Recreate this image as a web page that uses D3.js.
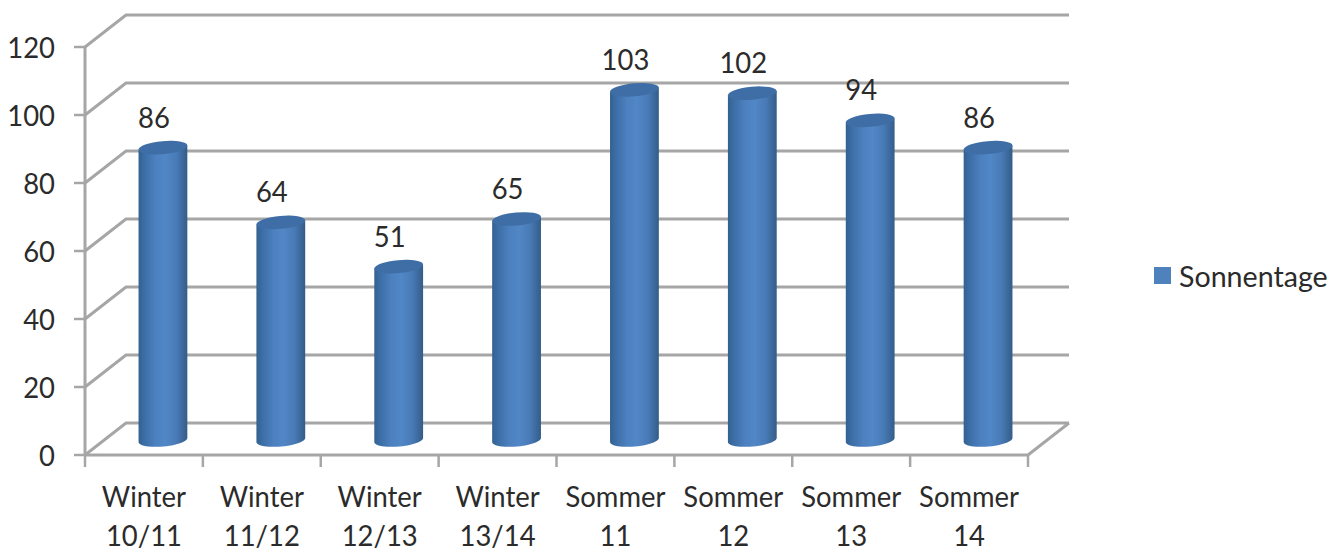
<!DOCTYPE html>
<html><head><meta charset="utf-8">
<script src="https://cdn.jsdelivr.net/npm/d3@7"></script>
<style>
html,body{margin:0;padding:0;background:#fff}
svg{display:block}
text{font-family:Lato,"Open Sans",sans-serif;fill:#2b2b2b}
</style></head><body>
<div id="chart"></div>
<script>
const categories=[["Winter","10/11"],["Winter","11/12"],["Winter","12/13"],["Winter","13/14"],["Sommer","11"],["Sommer","12"],["Sommer","13"],["Sommer","14"]];
const seriesName="Sonnentage";
const values=[86,64,51,65,103,102,94,86];
const yTicks=[0,20,40,60,80,100,120];

const W=1343,H=555;
const frontLeft=85,frontRight=1028,floorY=455,topY=47;
const depthX=41,depthY=-32;
const fontSize=29.5,squeeze=0.93,gridColor="#a6a6a6";

const svg=d3.select("#chart").append("svg").attr("width",W).attr("height",H);
const y=d3.scaleLinear().domain([0,120]).range([floorY,topY]);
const x=d3.scaleBand().domain(d3.range(values.length)).range([frontLeft,frontRight]);
const place=(px,py,sx=squeeze)=>`translate(${px},${py}) scale(${sx},1)`;

const defs=svg.append("defs");
const grad=defs.append("linearGradient").attr("id","cyl");
[[0,"#33608f"],[0.12,"#3c6ea6"],[0.35,"#4c80bf"],[0.55,"#5187c6"],[0.78,"#487ab6"],[0.93,"#3a6697"],[1,"#345c88"]]
  .forEach(([o,c])=>grad.append("stop").attr("offset",o).attr("stop-color",c));

// Side wall, back wall and floor edges
const grid=svg.append("g").attr("fill","none").attr("stroke",gridColor).attr("stroke-width",3);
grid.selectAll("path.g").data(yTicks).join("path").attr("class","g")
  .attr("d",t=>d3.line()([[frontLeft,y(t)],[frontLeft+depthX,y(t)+depthY],[frontRight+depthX,y(t)+depthY]]));
grid.append("path").attr("d",d3.line()([[frontLeft,floorY],[frontRight,floorY],[frontRight+depthX,floorY+depthY]]));
grid.append("path").attr("d",d3.line()([[frontLeft,topY],[frontLeft,floorY]]));

// Axis ticks and labels
const ticksY=svg.append("g").attr("stroke",gridColor).attr("stroke-width",2.5);
ticksY.selectAll("line").data(yTicks).join("line")
  .attr("x1",frontLeft-11).attr("x2",frontLeft).attr("y1",y).attr("y2",y);
const ticksX=svg.append("g").attr("stroke",gridColor).attr("stroke-width",2.5);
ticksX.selectAll("line").data(d3.range(values.length+1)).join("line")
  .attr("x1",i=>frontLeft+i*x.step()).attr("x2",i=>frontLeft+i*x.step())
  .attr("y1",floorY).attr("y2",floorY+12);

svg.append("g").selectAll("text").data(yTicks).join("text")
  .attr("transform",t=>place(frontLeft-30,y(t))).attr("dy","0.36em").attr("text-anchor","end")
  .attr("font-size",fontSize).text(d=>d);

const catRows=[507,546];
catRows.forEach((rowY,row)=>{
  svg.append("g").selectAll("text").data(categories).join("text")
    .attr("text-anchor","middle").attr("font-size",fontSize)
    .attr("transform",(d,i)=>place(x(i)+x.bandwidth()/2,rowY)).text(d=>d[row]);
});

// Cylinders standing on the floor, set back from the front edge
const rx=24.5,ry=6.5,tiltRad=-0.09,baseShift=-15,offX=19;
const ellipsePoint=(cy,a)=>[
  rx*Math.cos(a)*Math.cos(tiltRad)-ry*Math.sin(a)*Math.sin(tiltRad),
  cy+rx*Math.cos(a)*Math.sin(tiltRad)+ry*Math.sin(a)*Math.cos(tiltRad)
];
const lowerArc=d3.range(0,Math.PI+0.01,Math.PI/24);
const bodyLine=d3.line().curve(d3.curveLinear);
const bars=svg.append("g").selectAll("g").data(values).join("g")
  .attr("transform",(d,i)=>`translate(${x(i)+x.bandwidth()/2+offX},0)`);
bars.append("path").attr("fill","url(#cyl)")
  .attr("d",d=>{
    const yb=y(0)+baseShift,yt=y(d)+baseShift;
    const bottom=lowerArc.map(a=>ellipsePoint(yb,a));
    const top=[ellipsePoint(yt,Math.PI),ellipsePoint(yt,0)];
    return bodyLine([...top.slice(1),...bottom,top[0]])+"Z";
  });
bars.append("ellipse").attr("rx",rx).attr("ry",ry).attr("fill","#3f6ea6")
  .attr("transform",d=>`translate(0,${y(d)+baseShift}) rotate(${tiltRad*180/Math.PI})`);

// Value labels above each cylinder
bars.append("text").attr("text-anchor","middle")
  .attr("transform",d=>place(-9,y(d)+baseShift-20)).attr("font-size",fontSize).text(d=>d);

// Legend
const lg=svg.append("g");
lg.append("rect").attr("x",1154).attr("y",267).attr("width",17).attr("height",17).attr("fill","#4f81bd");
lg.append("text").attr("transform",place(1179,287,0.97)).attr("font-size",fontSize).text(seriesName);
</script>
</body></html>
